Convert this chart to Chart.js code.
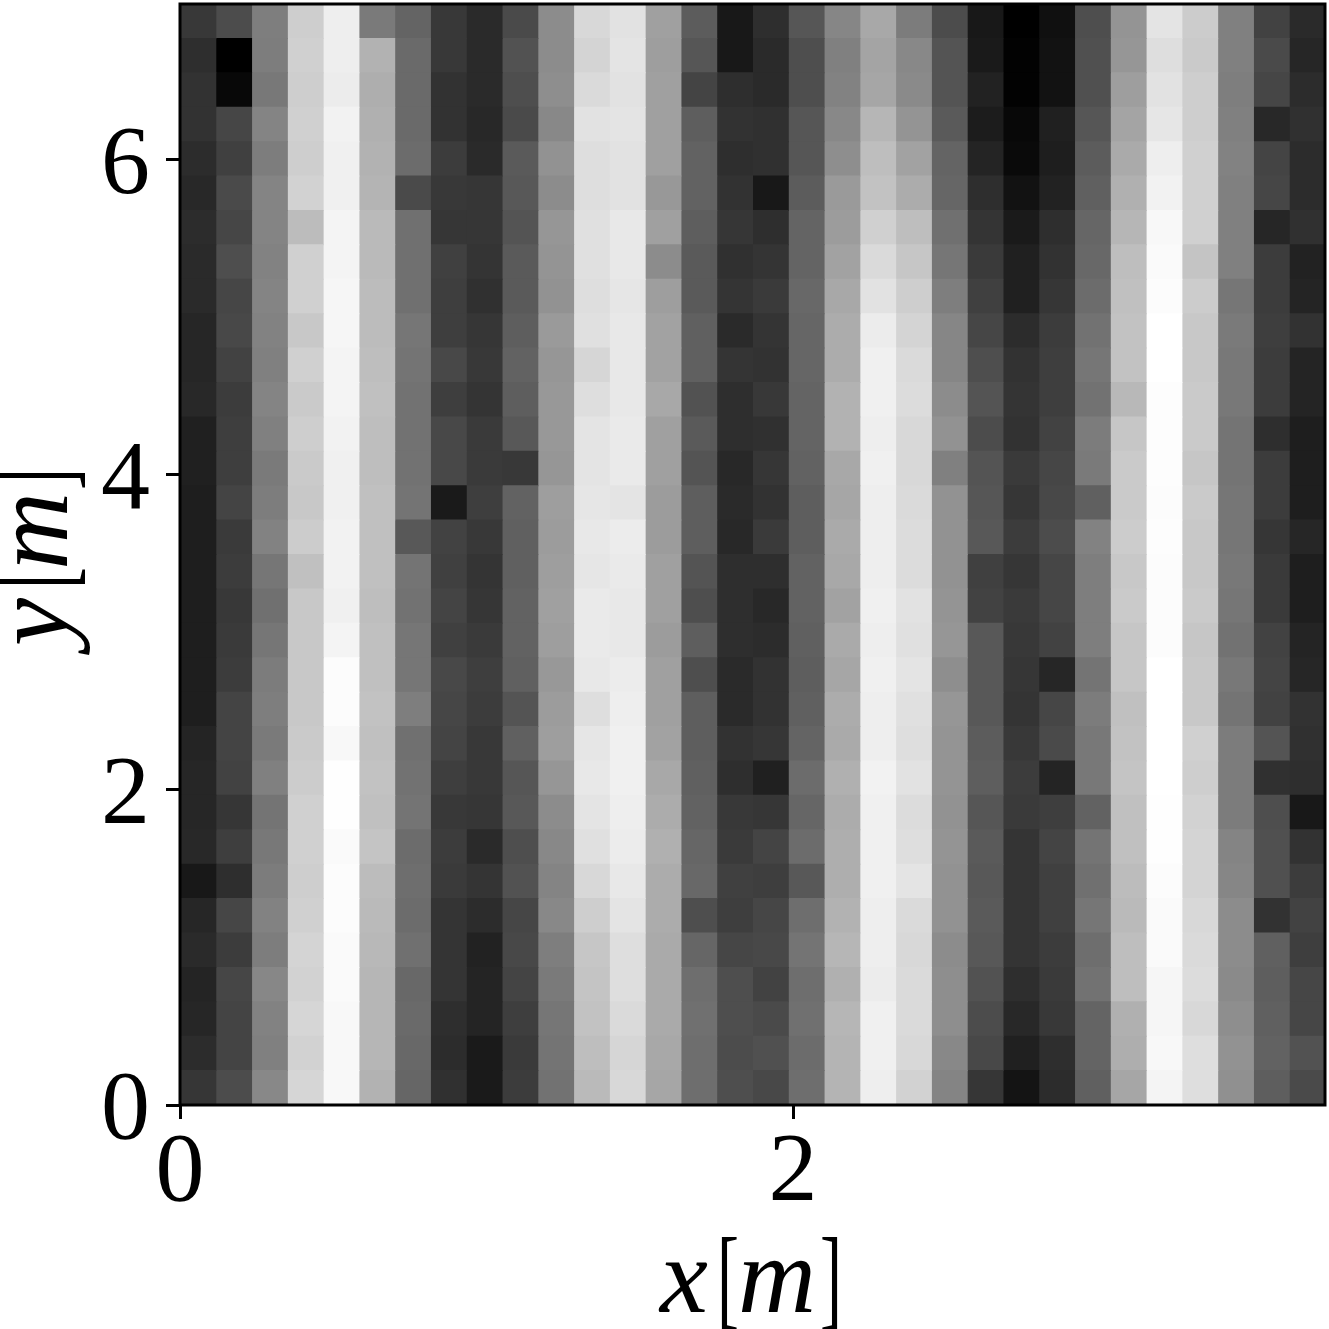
<!DOCTYPE html>
<html lang="en">
<head>
    <meta charset="UTF-8">
    <title>x-y field</title>
    <script src="https://cdn.jsdelivr.net/npm/chart.js"></script>
    <style>
        body { margin: 0; background: #fff; }
        canvas { display: block; }
    </style>
</head>
<body>
    <canvas id="myChart" width="1329" height="1329"></canvas>

    <script>
        const xMax = 3.735;
        const yMax = 6.99;
        const xTicks = [0, 2];
        const yTicks = [0, 2, 4, 6];
        const xLabelParts = ['x', '[', 'm', ']'];
        const yLabelParts = ['y', '[', 'm', ']'];

        // gray level of each cell, one list per column, top row first
        const c00 = [56,46,50,50,44,40,44,42,42,38,38,40,32,32,30,30,30,30,30,30,30,36,38,38,40,24,38,42,36,38,44,54];
        const c01 = [76,0,8,70,64,74,70,78,70,72,66,60,62,62,68,58,60,56,58,60,68,68,66,54,62,46,70,60,70,68,68,76];
        const c02 = [126,125,120,132,125,132,132,130,132,130,128,132,128,122,125,130,118,112,118,124,126,122,128,116,120,124,130,125,135,130,128,136];
        const c03 = [206,208,206,208,206,210,188,208,208,200,208,202,206,202,200,204,192,200,200,200,200,202,204,208,208,206,208,212,210,214,210,214];
        const c04 = [238,238,236,242,240,240,244,244,246,246,244,244,242,240,240,242,242,240,244,252,252,248,254,254,250,252,252,250,250,248,248,248];
        const c05 = [122,178,174,176,178,180,186,186,188,188,190,192,190,190,192,192,192,190,192,192,194,192,194,192,196,188,186,184,182,182,182,178];
        const c06 = [100,106,106,106,108,74,112,112,112,118,116,114,114,114,116,88,116,114,118,118,126,112,114,116,108,110,108,112,104,106,104,102];
        const c07 = [56,56,50,50,60,56,54,64,62,62,72,62,72,72,26,66,64,68,64,72,70,68,62,56,60,58,52,52,52,46,44,48];
        const c08 = [42,42,42,40,42,54,54,52,48,54,56,52,58,58,62,56,52,54,58,62,60,56,56,54,42,52,44,34,36,36,26,26];
        const c09 = [74,82,78,74,90,88,84,90,90,94,98,94,88,56,98,96,96,98,98,96,84,96,86,88,78,82,70,72,68,62,58,60];
        const c10 = [140,140,142,136,146,140,150,148,146,154,150,152,152,150,158,156,158,160,158,152,156,158,150,140,136,132,136,126,122,118,116,114];
        const c11 = [216,212,218,226,222,222,224,224,222,224,214,222,228,228,230,232,230,234,234,232,222,230,232,228,224,216,206,198,196,194,190,186];
        const c12 = [226,228,226,228,226,226,232,232,230,232,232,232,234,234,228,236,234,232,232,236,238,240,240,238,236,232,228,222,222,218,214,216];
        const c13 = [160,158,160,160,160,152,160,140,158,162,162,168,160,160,156,156,160,160,156,160,160,162,168,172,176,172,172,170,170,170,168,166];
        const c14 = [92,86,68,94,98,98,94,90,90,96,96,82,90,84,94,94,84,78,94,78,94,94,96,98,102,104,78,102,110,112,110,110];
        const c15 = [24,24,46,50,46,50,54,48,52,42,52,46,46,40,42,40,46,46,46,42,42,50,46,56,58,64,62,70,78,78,76,78];
        const c16 = [46,42,42,48,48,24,46,52,58,52,50,56,48,54,50,58,46,40,44,50,50,54,32,54,68,62,70,72,66,74,80,72];
        const c17 = [86,78,78,86,86,92,100,100,104,102,102,100,100,98,94,94,98,98,96,94,96,100,108,102,108,88,110,116,110,112,108,110];
        const c18 = [134,128,130,136,142,154,156,162,168,172,172,178,178,168,166,170,168,162,170,166,172,170,176,172,174,174,178,182,176,182,180,180];
        const c19 = [168,164,166,182,190,194,208,218,226,236,240,240,238,240,238,238,238,240,238,240,238,238,242,240,240,240,238,238,236,240,240,238];
        const c20 = [124,136,138,148,162,172,190,198,206,212,218,220,216,216,218,220,220,226,224,228,224,222,226,220,222,228,218,216,218,218,216,210];
        const c21 = [76,84,84,90,100,102,112,118,126,134,134,140,146,128,146,146,146,148,150,142,150,148,148,146,148,146,146,140,142,142,136,132];
        const c22 = [24,26,34,28,36,46,52,58,64,70,78,84,76,84,86,88,64,66,88,88,88,92,94,86,90,88,90,88,82,76,72,54];
        const c23 = [0,2,2,8,10,18,26,32,32,44,50,52,50,58,54,60,54,58,56,54,52,56,60,58,52,52,52,52,46,40,32,20];
        const c24 = [16,18,18,32,30,34,46,50,54,60,62,62,66,70,72,76,70,70,66,38,70,74,36,62,68,64,64,60,58,56,46,44];
        const c25 = [78,80,80,86,92,96,102,104,108,114,118,114,124,122,96,130,126,126,126,116,124,120,120,98,116,112,118,110,114,100,100,96];
        const c26 = [148,150,158,164,170,176,182,190,192,194,194,184,198,202,202,204,200,202,198,198,192,194,196,192,192,188,186,190,190,176,174,166];
        const c27 = [228,222,226,230,238,242,248,250,252,255,255,253,253,253,252,253,252,252,252,255,255,255,255,254,254,252,250,250,246,246,248,244];
        const c28 = [204,202,206,206,208,208,208,196,204,200,200,202,202,198,202,200,200,202,198,200,200,208,206,210,212,212,216,218,220,216,222,222];
        const c29 = [128,128,126,128,130,128,128,128,118,122,120,120,116,116,118,118,120,118,114,120,116,124,124,124,132,134,140,140,138,142,146,144];
        const c30 = [66,74,70,40,68,70,38,60,60,62,60,60,46,60,60,54,58,58,66,68,66,84,48,78,80,80,50,96,94,96,98,94];
        const c31 = [42,38,44,48,44,44,48,34,36,50,36,36,30,30,30,38,30,30,36,38,50,48,46,24,50,60,66,62,70,70,82,74];

        const columns = [c00,c01,c02,c03,c04,c05,c06,c07,c08,c09,c10,c11,c12,c13,c14,c15,
                         c16,c17,c18,c19,c20,c21,c22,c23,c24,c25,c26,c27,c28,c29,c30,c31];

        const nCols = columns.length;
        const nRows = c00.length;
        const dx = xMax / nCols;
        const dy = yMax / nRows;

        // one floating bar per cell, grouped by column
        const datasets = columns.map((col, c) => ({
            data: col.map((v, r) => ({
                x: (c + 0.5) * dx,
                y: [yMax - (r + 1) * dy, yMax - r * dy]
            })),
            backgroundColor: col.map(v => `rgb(${v},${v},${v})`),
            borderWidth: 0,
            inflateAmount: 0.5,
            grouped: false,
            barPercentage: 1,
            categoryPercentage: 1
        }));

        // letters are italic, brackets upright, tall and narrow like the TeX ones
        function drawParts(ctx, parts, offsets) {
            parts.forEach((text, i) => {
                if (text === '[' || text === ']') {
                    ctx.font = '112px "Liberation Serif"';
                    ctx.fillText(text, offsets[i], 3, 22);
                } else {
                    ctx.font = 'italic 108px "Liberation Serif"';
                    ctx.fillText(text, offsets[i], 0);
                }
            });
        }

        // frame round the plot and the axis labels
        const framePlugin = {
            id: 'frame',
            afterDraw(chart) {
                const { ctx, chartArea: a } = chart;
                ctx.save();
                ctx.strokeStyle = '#000';
                ctx.lineWidth = 3;
                ctx.strokeRect(a.left, a.top, a.right - a.left, a.bottom - a.top);
                ctx.fillStyle = '#000';
                ctx.textBaseline = 'alphabetic';
                ctx.textAlign = 'left';

                ctx.save();
                ctx.translate(660, 1312);
                drawParts(ctx, xLabelParts, [0, 57, 78, 160]);
                ctx.restore();

                ctx.save();
                ctx.translate(67, 646);
                ctx.rotate(-Math.PI / 2);
                drawParts(ctx, yLabelParts, [0, 57, 76, 156]);
                ctx.restore();
                ctx.restore();
            }
        };

        const tickFont = { family: '"Liberation Serif"', size: 98 };

        const ctx = document.getElementById('myChart').getContext('2d');
        new Chart(ctx, {
            type: 'bar',
            data: { datasets: datasets },
            plugins: [framePlugin],
            options: {
                responsive: false,
                animation: false,
                layout: { padding: { top: 4, right: 4 } },
                plugins: { legend: { display: false }, tooltip: { enabled: false } },
                scales: {
                    x: {
                        type: 'linear',
                        offset: false,
                        min: 0,
                        max: xMax,
                        afterBuildTicks: scale => { scale.ticks = xTicks.map(v => ({ value: v })); },
                        afterFit: scale => {
                            scale.height = 224;
                            scale.paddingLeft = scale.paddingRight = 0;
                        },
                        border: { display: false },
                        grid: { offset: false, drawOnChartArea: false, tickLength: 14, tickWidth: 3, tickColor: '#000' },
                        ticks: { color: '#000', font: tickFont, padding: -4, maxRotation: 0, autoSkip: false, includeBounds: false }
                    },
                    y: {
                        min: 0,
                        max: yMax,
                        afterBuildTicks: scale => { scale.ticks = yTicks.map(v => ({ value: v })); },
                        afterFit: scale => {
                            scale.width = 180;
                            scale.paddingTop = scale.paddingBottom = 0;
                        },
                        border: { display: false },
                        grid: { offset: false, drawOnChartArea: false, tickLength: 14, tickWidth: 3, tickColor: '#000' },
                        ticks: { color: '#000', font: tickFont, padding: 16, labelOffset: 7, autoSkip: false, includeBounds: false }
                    }
                }
            }
        });
    </script>
</body>
</html>
